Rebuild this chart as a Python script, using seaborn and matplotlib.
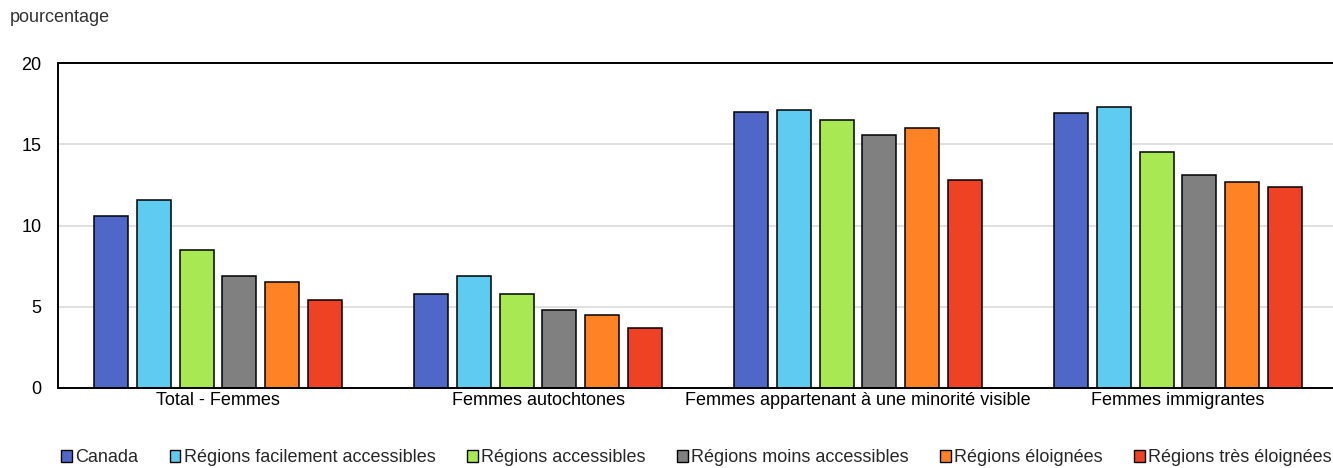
import matplotlib
matplotlib.use("Agg")
import matplotlib.pyplot as plt
from matplotlib import font_manager
from matplotlib.patches import Patch
import seaborn as sns
import pandas as pd

groups = ["Total - Femmes", "Femmes autochtones",
          "Femmes appartenant à une minorité visible", "Femmes immigrantes"]
regions = ["Canada", "Régions facilement accessibles", "Régions accessibles",
           "Régions moins accessibles", "Régions éloignées", "Régions très éloignées"]
canada = [10.6, 5.8, 17.0, 16.9]
facilement = [11.6, 6.9, 17.1, 17.3]
accessibles = [8.5, 5.8, 16.5, 14.5]
moins = [6.9, 4.8, 15.6, 13.1]
eloignees = [6.5, 4.5, 16.0, 12.7]
tres_eloignees = [5.4, 3.7, 12.8, 12.4]
y_ticks = [0, 5, 10, 15, 20]

colors = ["#4F68C8", "#5ECCF0", "#A8E852", "#808080", "#FF8224", "#EF4124"]

series = [canada, facilement, accessibles, moins, eloignees, tres_eloignees]
rows = []
for reg, vals in zip(regions, series):
    for g, v in zip(groups, vals):
        rows.append({"groupe": g, "region": reg, "valeur": v})
df = pd.DataFrame(rows)

sns.set_theme(style="white")
available = {f.name for f in font_manager.fontManager.ttflist}
main_font = "Liberation Sans Narrow" if "Liberation Sans Narrow" in available else "Liberation Sans"
plt.rcParams["font.family"] = [main_font, "DejaVu Sans"]

W, H = 1333, 468
fig = plt.figure(figsize=(W / 100, H / 100), dpi=100)
ax = fig.add_axes([58 / W, 1 - 388 / H, 1280 / W, 325 / H])

sns.barplot(data=df, x="groupe", y="valeur", hue="region", order=groups,
            hue_order=regions, palette=colors, saturation=1, width=0.8, gap=0.2,
            edgecolor="black", linewidth=1.1, ax=ax, legend=False)

ax.set_xlim(-0.5, 3.5)
ax.set_ylim(0, 20)
ax.set_yticks(y_ticks)
ax.yaxis.grid(True, color="#DDDDDD", linewidth=1.3)
ax.xaxis.grid(False)
ax.set_axisbelow(True)
ax.set_xlabel("")
ax.set_ylabel("")
ax.tick_params(axis="both", length=0, labelsize=13, colors="black")
ax.tick_params(axis="x", pad=3)
ax.tick_params(axis="y", pad=12)
for side in ["left", "top", "bottom"]:
    ax.spines[side].set_color("black")
    ax.spines[side].set_linewidth(1.4)
ax.spines["right"].set_visible(False)

fig.text(10 / W, 1 - 18 / H, "pourcentage", fontsize=13, color="#333333",
         ha="left", va="center")

handles = [Patch(facecolor=c, edgecolor="black", linewidth=1.0) for c in colors]
fig.legend(handles, regions, loc="center left", bbox_to_anchor=(61 / W, 1 - 458 / H),
           ncol=6, frameon=False, fontsize=13, handlelength=0.6, handleheight=0.6,
           handletextpad=0.2, columnspacing=1.72, borderaxespad=0, borderpad=0)

fig.savefig("out.png", dpi=100)
